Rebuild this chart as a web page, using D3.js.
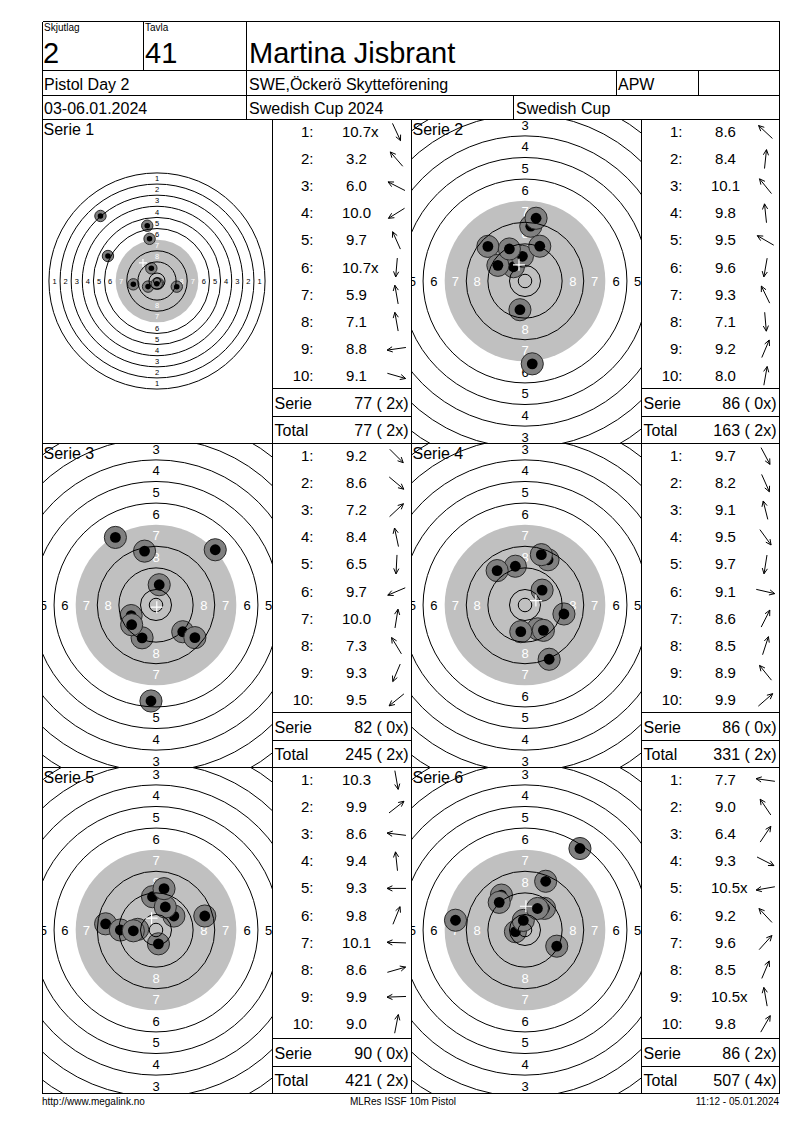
<!DOCTYPE html>
<html>
<head>
<meta charset="utf-8">
<script src="https://cdnjs.cloudflare.com/ajax/libs/d3/7.8.5/d3.min.js"></script>
<style>
  body { margin: 0; background: #fff; }
  text { font-family: Arial, "Liberation Sans", sans-serif; fill: #000; }
</style>
</head>
<body>
<div id="card"></div>
<script>
// header values
var squadNo = "2";
var laneNo = "41";
var shooterName = "Martina Jisbrant";
var eventName = "Pistol Day 2";
var clubName = "SWE,Öckerö Skytteförening";
var shooterClass = "APW";
var eventDates = "03-06.01.2024";
var competition = "Swedish Cup 2024";
var cupName = "Swedish Cup";
var footerTexts = ["http://www.megalink.no", "MLRes ISSF 10m Pistol", "11:12 - 05.01.2024"];

// shots per serie: decimal score and direction from centre (deg, 0 = right, 90 = up)
var serieNames = ["Serie 1", "Serie 2", "Serie 3", "Serie 4", "Serie 5", "Serie 6"];
var serie1Scores = [10.7, 3.2, 6.0, 10.0, 9.7, 10.7, 5.9, 7.1, 8.8, 9.1];
var serie1Dirs   = [-65, 131, 153, 212, 114, 265, 100, 100, 188, -16];
var serie2Scores = [8.6, 8.4, 10.1, 9.8, 9.5, 9.6, 9.3, 7.1, 9.2, 8.0];
var serie2Dirs   = [137, 84, 129, 96, 150, 260, 116, -85, 67, 80];
var serie3Scores = [9.2, 8.6, 7.2, 8.4, 6.5, 9.7, 10.0, 7.3, 9.3, 9.5];
var serie3Dirs   = [-45, -40, 43, 102, -93, 203, 81, 121, 247, 219];
var serie4Scores = [9.7, 8.2, 9.1, 9.5, 9.7, 9.1, 8.6, 8.5, 8.9, 9.9];
var serie4Dirs   = [-62, -66, 104, -54, -99, -13, 63, 72, 129, 41];
var serie5Scores = [10.3, 9.9, 8.6, 9.4, 9.3, 9.8, 10.1, 8.6, 9.9, 9.0];
var serie5Dirs   = [-80, 38, 173, 96, 180, 68, 178, 16, 182, 79];
var serie6Scores = [7.7, 9.0, 6.4, 9.3, 10.5, 9.2, 9.6, 8.5, 10.5, 9.8];
var serie6Dirs   = [172, 124, 56, -27, 190, 133, 48, 67, 100, 60];

var allScores = [serie1Scores, serie2Scores, serie3Scores, serie4Scores, serie5Scores, serie6Scores];
var allDirs = [serie1Dirs, serie2Dirs, serie3Dirs, serie4Dirs, serie5Dirs, serie6Dirs];

// ring numbers printed on the card
var ringLabels = [1, 2, 3, 4, 5, 6, 7, 8];
var ringLines = [1, 2, 3, 4, 5, 6, 8, 9, 10];

// card geometry
var svgWidth = 800;
var svgHeight = 1130;
var colX = [42.5, 272.5, 411.5, 641.5, 779.5];
var rowY = [119.5, 443.5, 767.5, 1093.5];

var $svg = d3.select("#card")
  .append("svg")
  .attr("width", svgWidth)
  .attr("height", svgHeight);

// ISSF 10m air pistol target: ring n radius in mm, score -> centre distance in mm
var ringRadius = d3.scaleLinear().domain([10, 1]).range([5.75, 77.75]);
var scoreDist = d3.scaleLinear().domain([10.95, 0.95]).range([0, 80]);

function line(x1, y1, x2, y2) {
  $svg.append("line")
    .attr("x1", x1).attr("y1", y1)
    .attr("x2", x2).attr("y2", y2)
    .attr("stroke", "#000")
    .attr("stroke-width", 1)
    .attr("shape-rendering", "crispEdges");
}

function label(x, y, txt, size, anchor) {
  return $svg.append("text")
    .attr("x", x)
    .attr("y", y)
    .attr("font-size", size + "px")
    .attr("text-anchor", anchor || "start")
    .text(txt);
}

// ---------- header ----------
line(colX[0], 21.5, colX[4], 21.5);
line(colX[0], 70.5, colX[4], 70.5);
line(colX[0], 95.5, colX[4], 95.5);
line(colX[0], 21.5, colX[0], rowY[3]);
line(colX[4], 21.5, colX[4], rowY[3]);
line(143.5, 21.5, 143.5, 70.5);
line(246.5, 21.5, 246.5, 119.5);
line(616.5, 70.5, 616.5, 95.5);
line(698.5, 70.5, 698.5, 95.5);
line(513.5, 95.5, 513.5, 119.5);

label(44, 31, "Skjutlag", 10);
label(145, 31, "Tavla", 10);
label(43, 63, squadNo, 29);
label(145, 63, laneNo, 29);
label(249, 63, shooterName, 29);
label(44, 90, eventName, 16);
label(249, 90, clubName, 16);
label(618, 90, shooterClass, 16);
label(44, 114, eventDates, 16);
label(249, 114, competition, 16);
label(516, 114, cupName, 16);

// ---------- grid ----------
rowY.forEach(function(y) { line(colX[0], y, colX[4], y); });
[1, 2, 3].forEach(function(c) { line(colX[c], rowY[0], colX[c], rowY[3]); });

var $defs = $svg.append("defs");
var runningTotal = 0;
var runningX = 0;

allScores.forEach(function(scores, i) {
  var dirs = allDirs[i];
  var row = Math.floor(i / 2);
  var col = i % 2;
  var top = rowY[row];
  var bottom = rowY[row + 1];
  var tx0 = colX[col * 2];
  var tx1 = colX[col * 2 + 1];
  var sx0 = tx1;
  var sx1 = colX[col * 2 + 2];

  // whole target when a shot is far out, zoomed otherwise
  var fullView = d3.max(scores, function(s) { return scoreDist(s); }) > 45;
  var mm = d3.scaleLinear().domain([0, 1]).range([0, fullView ? 1.39 : 2.7]);
  var cx = (tx0 + tx1) / 2 - (fullView ? 0.5 : 1.5);
  var cy = (top + bottom) / 2 - 0.5;

  $defs.append("clipPath")
    .attr("id", "clip" + i)
    .append("rect")
    .attr("x", tx0 + 0.5).attr("y", top + 0.5)
    .attr("width", tx1 - tx0 - 1).attr("height", bottom - top - 1);

  var tg = $svg.append("g").attr("clip-path", "url(#clip" + i + ")");

  // black area (rings 7-10) shown light grey
  tg.append("circle")
    .attr("cx", cx).attr("cy", cy)
    .attr("r", mm(ringRadius(7)))
    .attr("fill", "#c0c0c0");

  // ring numbers on four axes
  var lblSize = fullView ? 7.5 : 13;
  ringLabels.forEach(function(n) {
    var r = mm(ringRadius(n) - 4);
    [[0, -1], [0, 1], [-1, 0], [1, 0]].forEach(function(d) {
      tg.append("text")
        .attr("x", cx + d[0] * r)
        .attr("y", cy + d[1] * r + lblSize * 0.36)
        .attr("text-anchor", "middle")
        .attr("font-size", lblSize + "px")
        .style("fill", n >= 7 ? "#fff" : "#000")
        .text(n);
    });
  });

  // shots
  var pts = scores.map(function(s, k) {
    var a = dirs[k] * Math.PI / 180;
    var r = scoreDist(s);
    return { x: r * Math.cos(a), y: r * Math.sin(a) };
  });

  tg.selectAll("g.shot")
    .data(pts)
    .enter()
    .append("g")
    .attr("class", "shot")
    .each(function(p) {
      var g = d3.select(this);
      g.append("circle")
        .attr("cx", cx + mm(p.x)).attr("cy", cy - mm(p.y))
        .attr("r", mm(4.1))
        .attr("fill", "#808080")
        .attr("stroke", "#2a2a2a")
        .attr("stroke-width", 1);
      g.append("circle")
        .attr("cx", cx + mm(p.x)).attr("cy", cy - mm(p.y))
        .attr("r", mm(2.0))
        .attr("fill", "#000");
    });

  // ring lines
  tg.selectAll("circle.ring")
    .data(ringLines.map(ringRadius).concat([2.5]))
    .enter()
    .append("circle")
    .attr("class", "ring")
    .attr("cx", cx).attr("cy", cy)
    .attr("r", function(d) { return mm(d); })
    .attr("fill", "none")
    .attr("stroke", "#000")
    .attr("stroke-width", 1);

  // mean point of impact
  var mx = cx + mm(d3.mean(pts, function(p) { return p.x; }));
  var my = cy - mm(d3.mean(pts, function(p) { return p.y; }));
  var arm = fullView ? 4 : 6;
  tg.append("path")
    .attr("d", "M" + (mx - arm) + "," + my + "H" + (mx + arm) + "M" + mx + "," + (my - arm) + "V" + (my + arm))
    .attr("stroke", "#fff")
    .attr("stroke-width", 1.2);

  tg.append("text")
    .attr("x", tx0 + 1)
    .attr("y", top + 15)
    .attr("font-size", "16px")
    .text(serieNames[i]);

  // ---------- score list ----------
  var rowBase = d3.scaleLinear().domain([0, 1]).range([top + 17.5, top + 44.6]);
  scores.forEach(function(s, k) {
    var y = rowBase(k);
    label(sx0 + 41, y, (k + 1) + ":", 15, "end");
    var num = label(sx0 + 84, y, s.toFixed(1), 15, "middle");
    if (scoreDist(s) <= 4.75) {
      var w = num.node().getComputedTextLength();
      label(sx0 + 84 + w / 2, y, "x", 15);
    }
    // direction arrow
    var a = dirs[k] * Math.PI / 180;
    var ax = sx0 + 124, ay = y - 5;
    var ux = Math.cos(a), uy = -Math.sin(a);
    var L = 9.5, H = 6, sp = 0.45;
    var tipX = ax + ux * L, tipY = ay + uy * L;
    var h1 = [tipX - H * (ux * Math.cos(sp) - uy * Math.sin(sp)), tipY - H * (uy * Math.cos(sp) + ux * Math.sin(sp))];
    var h2 = [tipX - H * (ux * Math.cos(-sp) - uy * Math.sin(-sp)), tipY - H * (uy * Math.cos(-sp) + ux * Math.sin(-sp))];
    $svg.append("path")
      .attr("d", "M" + (ax - ux * L) + "," + (ay - uy * L) + "L" + tipX + "," + tipY +
        "M" + h1[0] + "," + h1[1] + "L" + tipX + "," + tipY + "L" + h2[0] + "," + h2[1])
      .attr("fill", "none")
      .attr("stroke", "#000")
      .attr("stroke-width", 1);
  });

  var serieSum = d3.sum(scores, function(s) { return Math.floor(s); });
  var serieX = scores.filter(function(s) { return scoreDist(s) <= 4.75; }).length;
  runningTotal += serieSum;
  runningX += serieX;

  var l1 = bottom - 55;
  var l2 = bottom - 27.5;
  line(sx0, l1, sx1, l1);
  line(sx0, l2, sx1, l2);
  label(sx0 + 2, l1 + 20, "Serie", 16);
  label(sx1 - 3, l1 + 20, serieSum + " ( " + serieX + "x)", 16, "end");
  label(sx0 + 2, l2 + 19.5, "Total", 16);
  label(sx1 - 3, l2 + 19.5, runningTotal + " ( " + runningX + "x)", 16, "end");
});

// ---------- footer ----------
label(42, 1105, footerTexts[0], 10);
label(403, 1105, footerTexts[1], 10, "middle");
label(779, 1105, footerTexts[2], 10, "end");
</script>
</body>
</html>
